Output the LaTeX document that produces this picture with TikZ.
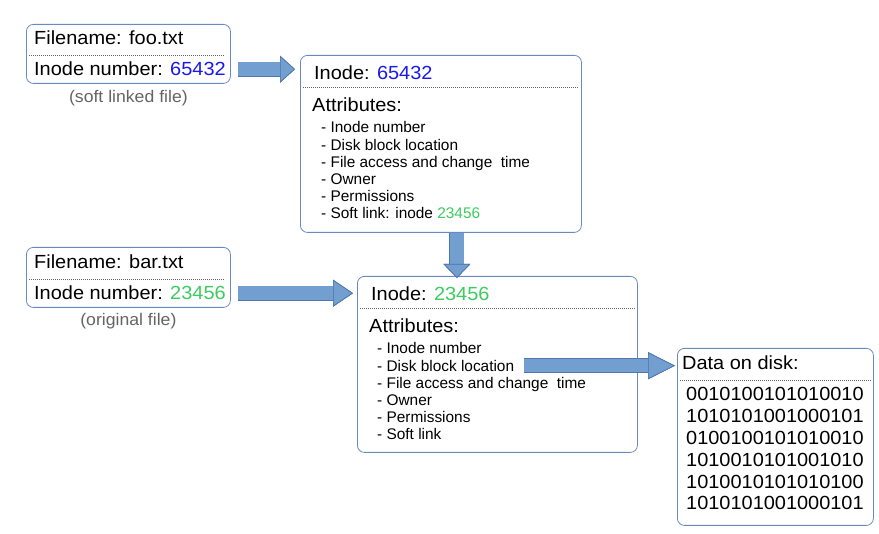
\documentclass[tikz,border=0pt]{standalone}
\usepackage{fontspec}
\setmainfont{Liberation Sans}
\newfontfamily\widesans{Liberation Sans}[FakeStretch=1.05]
\usepackage{xcolor}
\usetikzlibrary{arrows.meta,positioning,calc}

\definecolor{boxline}{RGB}{104,138,192}
\definecolor{arrowfill}{RGB}{114,159,207}
\definecolor{arrowline}{RGB}{78,118,175}
\definecolor{inoblue}{RGB}{25,25,235}
\definecolor{inogreen}{RGB}{60,205,95}
\definecolor{capgray}{RGB}{100,100,100}

\tikzset{
  box/.style={draw=boxline, line width=0.8pt, rounded corners=7pt, fill=white, anchor=north west, inner sep=0pt},
  divider/.style={draw=gray!80!black, line width=0.7pt, dash pattern=on 0.8pt off 1.2pt},
  head/.style={font=\widesans\fontsize{19}{22}\selectfont, anchor=base west, inner sep=0pt},
  item/.style={font=\fontsize{15.4}{18}\selectfont, anchor=base west, inner sep=0pt},
  caption/.style={font=\widesans\fontsize{16.8}{19}\selectfont, text=capgray, anchor=base, inner sep=0pt},
  bits/.style={font=\widesans\fontsize{19}{22}\selectfont, anchor=base west, inner sep=0pt},
  blockarrow/.style={line width=13.5pt, draw=arrowfill,
    -{Triangle[length=#1 0 1, width=27pt 0 1, line width=0.7pt 0, fill=arrowfill, color=arrowline]},
    preaction={draw=arrowline, line width=15pt,
      -{Triangle[length=#1 0 1, width=27pt 0 1, line width=0.7pt 0]}}},
  blockarrow/.default=16pt
}

\begin{document}
\begin{tikzpicture}[x=1pt, y=-1pt]
  \useasboundingbox (0,0) rectangle (879,534);

  % directory entries
  \node[box, minimum width=204pt, minimum height=59pt] (foo) at (26,24) {};
  \node[head] (fooname) at ([shift={(8,21)}]foo.north west) {Filename: foo.txt};
  \node[head] (fooino)  at ([shift={(8,52)}]foo.north west) {Inode number: \textcolor{inoblue}{65432}};
  \draw[divider] ([shift={(3,31)}]foo.north west) -- ([shift={(-7,31)}]foo.north east);
  \node[caption] (foocap) at ([shift={(0,19)}]foo.south) {(soft linked file)};

  \node[box, minimum width=204pt, minimum height=60pt] (bar) at (26,247) {};
  \node[head] (barname) at ([shift={(8,22)}]bar.north west) {Filename: bar.txt};
  \node[head] (barino)  at ([shift={(8,53)}]bar.north west) {Inode number: \textcolor{inogreen}{23456}};
  \draw[divider] ([shift={(3,32)}]bar.north west) -- ([shift={(-7,32)}]bar.north east);
  \node[caption] (barcap) at ([shift={(0,18)}]bar.south) {(original file)};

  % inode of foo.txt
  \node[box, minimum width=281pt, minimum height=177pt] (inoA) at (300,55) {};
  \node[head] (inoAtitle) at ([shift={(14,25)}]inoA.north west) {Inode: \textcolor{inoblue}{65432}};
  \draw[divider] ([shift={(3,32)}]inoA.north west) -- ([shift={(-3,32)}]inoA.north east);
  \node[head] (inoAattr) at ([shift={(12,57)}]inoA.north west) {Attributes:};
  \node[item] (inoA1) at ([shift={(21,78)}]inoA.north west) {- Inode number};
  \node[item] (inoA2) at ([shift={(0,17.2)}]inoA1.base west) {- Disk block location};
  \node[item] (inoA3) at ([shift={(0,17.2)}]inoA2.base west) {- File access and change~ time};
  \node[item] (inoA4) at ([shift={(0,17.2)}]inoA3.base west) {- Owner};
  \node[item] (inoA5) at ([shift={(0,17.2)}]inoA4.base west) {- Permissions};
  \node[item] (inoA6) at ([shift={(0,17.2)}]inoA5.base west) {- Soft link: inode \textcolor{inogreen}{23456}};

  % inode of bar.txt
  \node[box, minimum width=280pt, minimum height=176pt] (inoB) at (357,276) {};
  \node[head] (inoBtitle) at ([shift={(14,25)}]inoB.north west) {Inode: \textcolor{inogreen}{23456}};
  \draw[divider] ([shift={(3,32)}]inoB.north west) -- ([shift={(-3,32)}]inoB.north east);
  \node[head] (inoBattr) at ([shift={(12,57)}]inoB.north west) {Attributes:};
  \node[item] (inoB1) at ([shift={(20,78)}]inoB.north west) {- Inode number};
  \node[item] (inoB2) at ([shift={(0,17.2)}]inoB1.base west) {- Disk block location};
  \node[item] (inoB3) at ([shift={(0,17.2)}]inoB2.base west) {- File access and change~ time};
  \node[item] (inoB4) at ([shift={(0,17.2)}]inoB3.base west) {- Owner};
  \node[item] (inoB5) at ([shift={(0,17.2)}]inoB4.base west) {- Permissions};
  \node[item] (inoB6) at ([shift={(0,17.2)}]inoB5.base west) {- Soft link};

  % data blocks
  \node[box, minimum width=196pt, minimum height=177pt] (data) at (677,348) {};
  \node[head] (datatitle) at ([shift={(5,22)}]data.north west) {Data on disk:};
  \draw[divider] ([shift={(3,32)}]data.north west) -- ([shift={(-3,32)}]data.north east);
  \node[bits] (bits1) at ([shift={(9,53)}]data.north west) {0010100101010010};
  \node[bits] (bits2) at ([shift={(0,21.8)}]bits1.base west) {1010101001000101};
  \node[bits] (bits3) at ([shift={(0,21.8)}]bits2.base west) {0100100101010010};
  \node[bits] (bits4) at ([shift={(0,21.8)}]bits3.base west) {1010010101001010};
  \node[bits] (bits5) at ([shift={(0,21.8)}]bits4.base west) {1010010101010100};
  \node[bits] (bits6) at ([shift={(0,21.8)}]bits5.base west) {1010101001000101};

  % links
  \coordinate (inoAout) at ([shift={(16,0)}]inoA.south);
  \draw[blockarrow=15pt, shorten <=7pt, shorten >=5pt] (foo.east |- fooino.center) -- (inoA.west |- fooino.center);
  \draw[blockarrow=20pt, shorten <=7pt, shorten >=4pt] (bar.east |- barino.center) -- (inoB.west |- barino.center);
  \draw[blockarrow=14pt, shorten >=-2pt] (inoAout) -- (inoAout |- inoB.north);
  \draw[blockarrow=27pt, shorten <=10pt, shorten >=2pt] (inoB2.east) -- (inoB2.east -| data.west);
\end{tikzpicture}
\end{document}
